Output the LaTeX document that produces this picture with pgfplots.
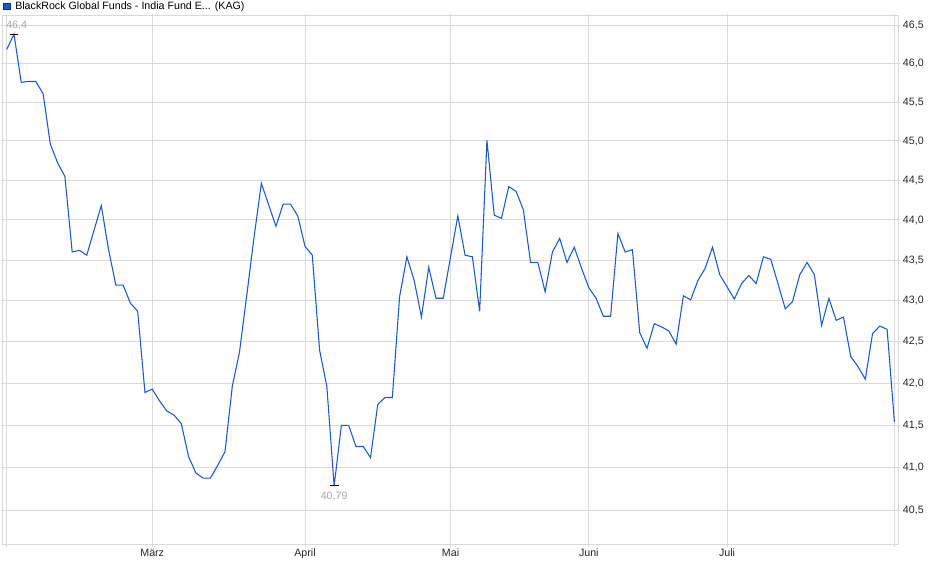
\documentclass[border=0pt]{standalone}
\usepackage{fontspec}
\setmainfont{Liberation Sans}
\usepackage{pgfplots}
\pgfplotsset{compat=1.18}

\definecolor{linecol}{HTML}{1A5BC4}
\definecolor{gridcol}{HTML}{DADADA}
\definecolor{notecol}{HTML}{A8A8A8}

\begin{document}
\begin{tikzpicture}
\path[use as bounding box] (0,0) rectangle (705pt,434.25pt);
% legend square and title
\filldraw[fill=linecol, draw=linecol!55!black, line width=0.5pt] (2.6pt,427pt) rectangle (7.4pt,431.8pt);
\node[anchor=base west, inner sep=0pt, font=\fontsize{8}{9.6}\selectfont] at (11.25pt,426.75pt)
  {BlackRock Global Funds - India Fund E... (KAG)};
\begin{axis}[
  at={(2.025pt,25.5pt)}, anchor=south west,
  width=671.5pt, height=396.75pt, scale only axis,
  xmin=-0.55, xmax=122.5,
  ymode=log, ymin=40.11, ymax=46.633,
  xtick={0,20,41,61,80,99,122},
  xticklabels={,März,April,Mai,Juni,Juli,},
  ytick={40.5,41,41.5,42,42.5,43,43.5,44,44.5,45,45.5,46,46.5},
  yticklabels={{40,5},{41,0},{41,5},{42,0},{42,5},{43,0},{43,5},{44,0},{44,5},{45,0},{45,5},{46,0},{46,5}},
  yticklabel pos=right,
  grid=major, major grid style={gridcol, line width=0.75pt},
  axis line style={gridcol, line width=0.75pt},
  tick style={gridcol, line width=0.75pt},
  tick align=outside, major tick length=1.5pt,
  minor tick num=0,
  ticklabel style={font=\fontsize{8}{9.6}\selectfont, text=black!85},
  xticklabel style={anchor=north, inner sep=0pt, yshift=-1.5pt},
  yticklabel style={anchor=west, inner sep=0pt, xshift=2pt},
]
\addplot[linecol, line width=0.8pt] table {
x y
0 46.19
1 46.39
2 45.76
3 45.77
4 45.77
5 45.61
6 44.96
7 44.72
8 44.55
9 43.60
10 43.62
11 43.56
12 43.87
13 44.18
14 43.63
15 43.19
16 43.19
17 42.97
18 42.87
19 41.89
20 41.93
21 41.79
22 41.67
23 41.62
24 41.52
25 41.13
26 40.94
27 40.88
28 40.88
29 41.03
30 41.19
31 41.96
32 42.38
33 43.07
34 43.79
35 44.46
36 44.19
37 43.92
38 44.20
39 44.20
40 44.05
41 43.67
42 43.56
43 42.40
44 41.96
45 40.79
46 41.50
47 41.50
48 41.25
49 41.25
50 41.12
51 41.75
52 41.83
53 41.83
54 43.05
55 43.54
56 43.25
57 42.80
58 43.41
59 43.03
60 43.03
61 43.54
62 44.05
63 43.56
64 43.54
65 42.87
66 45.01
67 44.06
68 44.02
69 44.42
70 44.36
71 44.13
72 43.47
73 43.47
74 43.11
75 43.60
76 43.77
77 43.47
78 43.66
79 43.40
80 43.16
81 43.03
82 42.81
83 42.81
84 43.83
85 43.60
86 43.63
87 42.61
88 42.42
89 42.72
90 42.68
91 42.63
92 42.47
93 43.06
94 43.01
95 43.25
96 43.40
97 43.66
98 43.32
99 43.17
100 43.02
101 43.21
102 43.31
103 43.21
104 43.54
105 43.51
106 43.21
107 42.90
108 42.99
109 43.32
110 43.47
111 43.32
112 42.70
113 43.03
114 42.76
115 42.80
116 42.32
117 42.20
118 42.05
119 42.60
120 42.69
121 42.65
122 41.54
};
% high and low markers
\addplot[black, line width=0.75pt, mark=-, mark size=3.3pt, only marks,
  nodes near coords={46{,}4},
  every node near coord/.append style={anchor=south, inner sep=0pt, yshift=2.5pt, xshift=2pt,
    text=notecol, font=\fontsize{8}{9.6}\selectfont}]
  coordinates {(1,46.39)};
\addplot[black, line width=0.75pt, mark=-, mark size=3.3pt, only marks,
  nodes near coords={40{,}79},
  every node near coord/.append style={anchor=north, inner sep=0pt, yshift=-4.5pt,
    text=notecol, font=\fontsize{8}{9.6}\selectfont}]
  coordinates {(45,40.79)};
\end{axis}
\end{tikzpicture}
\end{document}
